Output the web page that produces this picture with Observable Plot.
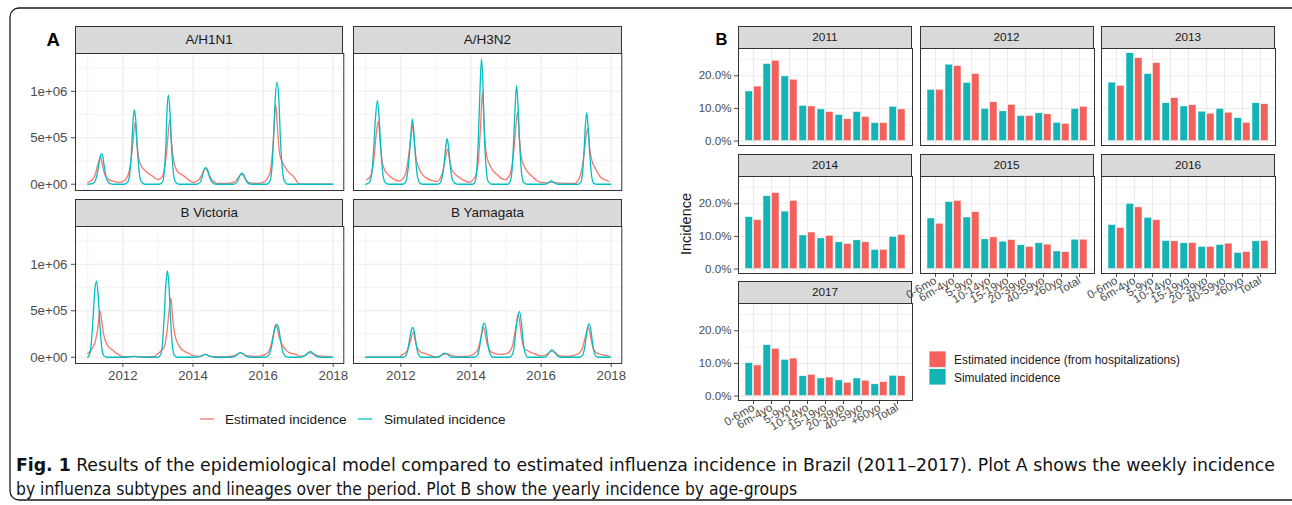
<!DOCTYPE html>
<html><head><meta charset="utf-8">
<script src="https://cdn.jsdelivr.net/npm/d3@7"></script>
<script src="https://cdn.jsdelivr.net/npm/@observablehq/plot@0.6"></script>
<style>
html,body{margin:0;padding:0;background:#fff;}
body{width:1292px;height:505px;position:relative;overflow:hidden;font-family:"Liberation Sans",Arial,Helvetica,sans-serif;}
.strip{position:absolute;background:#D9D9D9;border:1px solid #333;box-sizing:border-box;color:#1A1A1A;text-align:center;}
svg.plotsvg{position:absolute;overflow:visible;}
</style></head><body>
<script>
// ---------------- DATA: Plot A (weekly incidence, values in millions) ----------------
const subtypes = ["A/H1N1", "A/H3N2", "B Victoria", "B Yamagata"];
const seriesNames = ["Estimated incidence", "Simulated incidence"];

const h1n1Est = [[2011.0,0.02],[2011.1,0.04],[2011.2,0.09],[2011.28,0.2],[2011.36,0.29],[2011.42,0.2],[2011.5,0.09],[2011.6,0.05],[2011.75,0.03],[2011.9,0.02],[2012.05,0.04],[2012.15,0.1],[2012.22,0.22],[2012.28,0.42],[2012.35,0.67],[2012.39,0.5],[2012.44,0.3],[2012.52,0.2],[2012.6,0.16],[2012.7,0.12],[2012.8,0.1],[2012.9,0.07],[2013.0,0.05],[2013.1,0.07],[2013.18,0.15],[2013.25,0.35],[2013.34,0.69],[2013.38,0.5],[2013.43,0.3],[2013.5,0.18],[2013.6,0.12],[2013.7,0.1],[2013.8,0.07],[2013.9,0.04],[2014.0,0.02],[2014.15,0.04],[2014.25,0.1],[2014.36,0.17],[2014.45,0.11],[2014.55,0.04],[2014.7,0.01],[2015.0,0.01],[2015.2,0.03],[2015.32,0.09],[2015.39,0.11],[2015.47,0.07],[2015.58,0.02],[2015.8,0.01],[2016.0,0.02],[2016.1,0.05],[2016.2,0.13],[2016.28,0.4],[2016.36,0.86],[2016.41,0.6],[2016.47,0.33],[2016.55,0.24],[2016.65,0.17],[2016.75,0.12],[2016.85,0.09],[2016.93,0.05],[2017.0,0.01],[2017.2,0],[2017.98,0]];
const h1n1Sim = [[2011.0,0],[2011.15,0.01],[2011.25,0.08],[2011.31,0.2],[2011.35,0.29],[2011.39,0.33],[2011.43,0.29],[2011.47,0.19],[2011.53,0.07],[2011.62,0.01],[2011.75,0],[2012.05,0],[2012.15,0.03],[2012.21,0.16],[2012.25,0.38],[2012.29,0.68],[2012.33,0.80],[2012.37,0.68],[2012.41,0.40],[2012.46,0.15],[2012.52,0.03],[2012.62,0],[2013.05,0],[2013.14,0.03],[2013.19,0.18],[2013.23,0.45],[2013.26,0.80],[2013.30,0.96],[2013.34,0.80],[2013.38,0.46],[2013.43,0.17],[2013.49,0.03],[2013.6,0],[2014.1,0],[2014.2,0.02],[2014.27,0.09],[2014.32,0.16],[2014.37,0.18],[2014.42,0.15],[2014.47,0.08],[2014.55,0.02],[2014.65,0],[2015.15,0],[2015.25,0.02],[2015.32,0.08],[2015.36,0.11],[2015.40,0.12],[2015.45,0.10],[2015.5,0.05],[2015.58,0.01],[2015.68,0],[2016.1,0],[2016.2,0.04],[2016.26,0.22],[2016.3,0.52],[2016.34,0.88],[2016.40,1.10],[2016.45,0.90],[2016.49,0.52],[2016.54,0.2],[2016.6,0.04],[2016.7,0],[2017.98,0]];

const h3n2Est = [[2011.03,0.05],[2011.1,0.07],[2011.17,0.12],[2011.24,0.3],[2011.3,0.55],[2011.36,0.68],[2011.41,0.45],[2011.46,0.26],[2011.52,0.17],[2011.6,0.12],[2011.71,0.08],[2011.82,0.05],[2011.95,0.035],[2012.06,0.06],[2012.14,0.12],[2012.22,0.3],[2012.29,0.52],[2012.34,0.63],[2012.39,0.42],[2012.45,0.25],[2012.52,0.17],[2012.62,0.1],[2012.76,0.06],[2012.9,0.04],[2013.05,0.03],[2013.13,0.07],[2013.2,0.14],[2013.27,0.28],[2013.34,0.38],[2013.39,0.26],[2013.45,0.16],[2013.52,0.12],[2013.64,0.08],[2013.76,0.05],[2013.95,0.02],[2014.06,0.05],[2014.14,0.1],[2014.21,0.25],[2014.27,0.6],[2014.33,1.0],[2014.38,0.6],[2014.44,0.32],[2014.52,0.22],[2014.62,0.15],[2014.76,0.1],[2014.88,0.06],[2014.98,0.05],[2015.07,0.08],[2015.14,0.14],[2015.22,0.35],[2015.28,0.62],[2015.33,0.78],[2015.38,0.5],[2015.44,0.28],[2015.52,0.19],[2015.62,0.13],[2015.76,0.08],[2015.88,0.04],[2015.98,0.02],[2016.15,0.015],[2016.3,0.025],[2016.45,0.015],[2016.7,0.01],[2016.95,0.01],[2017.05,0.04],[2017.12,0.1],[2017.2,0.25],[2017.27,0.48],[2017.33,0.60],[2017.38,0.4],[2017.45,0.25],[2017.52,0.19],[2017.62,0.12],[2017.71,0.07],[2017.82,0.05],[2017.93,0.03]];
const h3n2Sim = [[2011.0,0],[2011.1,0.02],[2011.17,0.12],[2011.22,0.35],[2011.27,0.68],[2011.33,0.90],[2011.38,0.72],[2011.43,0.38],[2011.48,0.13],[2011.55,0.02],[2011.65,0],[2012.05,0],[2012.13,0.02],[2012.19,0.12],[2012.24,0.3],[2012.29,0.56],[2012.33,0.70],[2012.37,0.56],[2012.42,0.28],[2012.47,0.09],[2012.55,0.01],[2012.65,0],[2013.05,0],[2013.13,0.02],[2013.19,0.1],[2013.24,0.24],[2013.28,0.4],[2013.32,0.49],[2013.36,0.4],[2013.41,0.2],[2013.46,0.06],[2013.54,0.01],[2013.65,0],[2014.05,0],[2014.12,0.03],[2014.17,0.18],[2014.21,0.5],[2014.26,1.05],[2014.30,1.35],[2014.34,1.08],[2014.38,0.55],[2014.43,0.18],[2014.49,0.03],[2014.6,0],[2015.05,0],[2015.12,0.03],[2015.17,0.15],[2015.21,0.42],[2015.26,0.85],[2015.30,1.06],[2015.34,0.85],[2015.39,0.42],[2015.44,0.13],[2015.5,0.02],[2015.6,0],[2016.1,0],[2016.2,0.015],[2016.29,0.035],[2016.38,0.015],[2016.48,0],[2017.05,0],[2017.13,0.02],[2017.18,0.12],[2017.22,0.33],[2017.26,0.62],[2017.30,0.77],[2017.34,0.62],[2017.39,0.3],[2017.44,0.09],[2017.5,0.01],[2017.6,0],[2017.98,0]];

const bvicEst = [[2011.0,0.04],[2011.08,0.07],[2011.15,0.11],[2011.22,0.18],[2011.28,0.3],[2011.35,0.5],[2011.4,0.38],[2011.45,0.25],[2011.52,0.16],[2011.6,0.11],[2011.7,0.08],[2011.79,0.05],[2011.88,0.03],[2011.96,0.01],[2012.2,0.005],[2012.35,0.01],[2012.6,0.005],[2012.9,0.01],[2013.0,0.04],[2013.1,0.07],[2013.18,0.11],[2013.25,0.25],[2013.32,0.5],[2013.37,0.64],[2013.42,0.42],[2013.48,0.25],[2013.55,0.16],[2013.63,0.11],[2013.71,0.075],[2013.8,0.055],[2013.9,0.04],[2014.0,0.015],[2014.2,0.01],[2014.35,0.03],[2014.5,0.01],[2014.9,0.005],[2015.2,0.02],[2015.36,0.05],[2015.5,0.02],[2015.8,0.01],[2016.0,0.02],[2016.1,0.04],[2016.17,0.07],[2016.24,0.15],[2016.3,0.26],[2016.36,0.35],[2016.41,0.3],[2016.47,0.2],[2016.55,0.13],[2016.65,0.08],[2016.74,0.05],[2016.84,0.04],[2016.94,0.03],[2017.05,0.01],[2017.2,0.02],[2017.33,0.05],[2017.45,0.03],[2017.6,0.015],[2017.8,0.01],[2017.95,0.005]];
const bvicSim = [[2011.0,0],[2011.05,0.03],[2011.1,0.15],[2011.15,0.42],[2011.2,0.72],[2011.25,0.82],[2011.29,0.7],[2011.34,0.38],[2011.39,0.13],[2011.45,0.02],[2011.55,0],[2012.1,0],[2012.2,0.005],[2012.28,0.01],[2012.4,0.005],[2012.55,0],[2013.0,0],[2013.08,0.03],[2013.13,0.15],[2013.18,0.45],[2013.23,0.8],[2013.27,0.93],[2013.31,0.8],[2013.36,0.42],[2013.41,0.13],[2013.47,0.02],[2013.55,0],[2014.1,0],[2014.25,0.015],[2014.35,0.03],[2014.45,0.015],[2014.6,0],[2015.1,0],[2015.22,0.015],[2015.3,0.04],[2015.36,0.05],[2015.43,0.035],[2015.52,0.01],[2015.65,0],[2016.05,0],[2016.15,0.02],[2016.22,0.08],[2016.28,0.2],[2016.34,0.32],[2016.4,0.35],[2016.45,0.3],[2016.5,0.18],[2016.56,0.06],[2016.64,0.01],[2016.75,0],[2017.05,0],[2017.18,0.015],[2017.27,0.045],[2017.35,0.06],[2017.43,0.04],[2017.52,0.01],[2017.65,0],[2017.98,0]];

const byamEst = [[2011.0,0],[2011.95,0],[2012.0,0.015],[2012.1,0.04],[2012.19,0.075],[2012.27,0.17],[2012.36,0.27],[2012.41,0.18],[2012.47,0.1],[2012.55,0.06],[2012.65,0.045],[2012.76,0.03],[2012.88,0.015],[2013.0,0],[2013.15,0.02],[2013.31,0.04],[2013.45,0.02],[2013.6,0.01],[2013.9,0.01],[2014.1,0.04],[2014.2,0.09],[2014.28,0.2],[2014.36,0.32],[2014.42,0.22],[2014.49,0.11],[2014.57,0.06],[2014.7,0.04],[2014.86,0.03],[2015.0,0.04],[2015.1,0.06],[2015.18,0.12],[2015.26,0.28],[2015.35,0.46],[2015.4,0.34],[2015.46,0.17],[2015.53,0.09],[2015.62,0.07],[2015.72,0.05],[2015.81,0.04],[2015.92,0.02],[2016.0,0.015],[2016.15,0.03],[2016.23,0.05],[2016.31,0.07],[2016.4,0.05],[2016.5,0.02],[2016.7,0.01],[2016.95,0.02],[2017.1,0.05],[2017.18,0.1],[2017.26,0.22],[2017.35,0.32],[2017.41,0.22],[2017.48,0.1],[2017.57,0.05],[2017.7,0.03],[2017.82,0.02],[2017.93,0.015]];
const byamSim = [[2011.0,0],[2012.05,0],[2012.13,0.01],[2012.19,0.07],[2012.24,0.17],[2012.29,0.28],[2012.34,0.32],[2012.39,0.26],[2012.44,0.13],[2012.5,0.03],[2012.58,0],[2013.05,0],[2013.15,0.02],[2013.24,0.045],[2013.33,0.03],[2013.45,0],[2014.1,0],[2014.18,0.02],[2014.24,0.1],[2014.29,0.23],[2014.34,0.34],[2014.38,0.37],[2014.43,0.3],[2014.48,0.15],[2014.54,0.04],[2014.62,0],[2015.1,0],[2015.18,0.03],[2015.24,0.14],[2015.29,0.32],[2015.34,0.45],[2015.38,0.49],[2015.43,0.4],[2015.48,0.2],[2015.54,0.05],[2015.62,0],[2016.05,0],[2016.15,0.01],[2016.23,0.05],[2016.31,0.08],[2016.39,0.05],[2016.48,0.01],[2016.58,0],[2017.1,0],[2017.18,0.02],[2017.24,0.1],[2017.29,0.23],[2017.33,0.33],[2017.37,0.36],[2017.42,0.29],[2017.47,0.14],[2017.53,0.03],[2017.62,0],[2017.98,0]];

const aXTicks = [2012, 2014, 2016, 2018];
const aXMinor = [2011, 2013, 2015, 2017];
const aYTicks = [0, 500000, 1000000];
const aYLabels = ["0e+00", "5e+05", "1e+06"];
const aYMinor = [250000, 750000, 1250000];

// ---------------- DATA: Plot B (yearly incidence by age group, %) ----------------
const ageGroups = ["0-6mo", "6m-4yo", "5-9yo", "10-14yo", "15-19yo", "20-39yo", "40-59yo", "+60yo", "Total"];
const years = [2011, 2012, 2013, 2014, 2015, 2016, 2017];
const sim2011 = [15.2, 23.6, 19.8, 10.8, 9.7, 8.0, 8.9, 5.5, 10.5];
const est2011 = [16.7, 24.6, 18.8, 10.6, 8.9, 6.7, 7.4, 5.5, 9.7];
const sim2012 = [15.7, 23.4, 17.8, 9.9, 9.1, 7.7, 8.5, 5.6, 9.9];
const est2012 = [15.7, 23.0, 20.5, 11.9, 11.1, 7.7, 8.2, 5.3, 10.5];
const sim2013 = [17.9, 26.9, 20.5, 11.6, 10.6, 9.0, 9.9, 7.0, 11.6];
const est2013 = [16.9, 25.4, 23.9, 13.2, 11.0, 8.4, 8.7, 5.6, 11.3];
const sim2014 = [15.9, 22.3, 17.6, 10.3, 9.4, 8.2, 8.8, 5.9, 9.9];
const est2014 = [15.0, 23.3, 20.9, 11.2, 10.2, 7.7, 8.2, 5.9, 10.4];
const sim2015 = [15.5, 20.5, 15.8, 9.1, 8.4, 7.3, 7.9, 5.4, 9.0];
const est2015 = [13.9, 20.9, 17.4, 9.7, 8.9, 6.8, 7.5, 5.2, 9.0];
const sim2016 = [13.5, 20.0, 15.7, 8.6, 7.9, 6.8, 7.4, 4.9, 8.5];
const est2016 = [12.6, 18.9, 15.0, 8.5, 8.0, 6.8, 7.8, 5.2, 8.6];
const sim2017 = [10.1, 15.6, 11.1, 6.1, 5.4, 4.8, 5.4, 3.6, 6.2];
const est2017 = [9.4, 14.5, 11.5, 6.5, 5.7, 4.1, 4.7, 4.3, 6.1];
const bYTicks = [0, 10, 20];
const bYLabels = ["0.0%", "10.0%", "20.0%"];
const bYMinor = [5, 15, 25];
const legendB = ["Estimated incidence (from hospitalizations)", "Simulated incidence"];

// ---------------- STYLE ----------------
const FONT = '"Liberation Sans", Arial, Helvetica, sans-serif';
const CAPFONT = '"Liberation Sans Narrow", "DejaVu Sans Condensed", "Roboto Condensed", "Liberation Sans", sans-serif';
const RED_L = "#F8766D", TEAL_L = "#00BFC4";
const RED_B = "#F4615D", TEAL_B = "#14B4B6";
const GRID = "#EBEBEB";

function strip(label, left, top, width, height, fs) {
  const d = document.createElement("div");
  d.className = "strip";
  Object.assign(d.style, {left: left + "px", top: top + "px", width: width + "px", height: height + "px",
    lineHeight: (height - 2) + "px", fontSize: fs + "px"});
  d.textContent = label;
  document.body.appendChild(d);
}
function place(svg, left, top) {
  svg.classList.add("plotsvg");
  svg.style.left = left + "px";
  svg.style.top = top + "px";
  svg.style.maxWidth = "none";
  svg.style.background = "transparent";
  document.body.appendChild(svg);
}

// ---------------- PLOT A ----------------
const A_COLS = [75, 353.3], A_W = 268.3, A_ROWS = [53, 226], A_H = 137, A_STRIP = 27;
const aPanels = [
  {name: subtypes[0], est: h1n1Est, sim: h1n1Sim, r: 0, c: 0},
  {name: subtypes[1], est: h3n2Est, sim: h3n2Sim, r: 0, c: 1},
  {name: subtypes[2], est: bvicEst, sim: bvicSim, r: 1, c: 0},
  {name: subtypes[3], est: byamEst, sim: byamSim, r: 1, c: 1}
];
const aSvgs = [];
for (const p of aPanels) {
  strip(p.name, A_COLS[p.c], A_ROWS[p.r] - A_STRIP, A_W, A_STRIP + 1, 13.5);
  const showY = p.c === 0, showX = p.r === 1;
  const ml = showY ? 75 : 0, mb = showX ? 26 : 0;
  const svg = Plot.plot({
    width: ml + A_W, height: A_H + mb,
    marginLeft: ml, marginRight: 0, marginTop: 0, marginBottom: mb,
    style: {fontFamily: FONT, fontSize: "13.3px", color: "#4D4D4D"},
    x: {domain: [2010.65, 2018.3], ticks: aXTicks, tickFormat: d => String(d), tickSize: 4, tickPadding: 3,
        axis: showX ? "bottom" : null, label: null},
    y: {domain: [-67000, 1407000], ticks: aYTicks, tickFormat: (d, i) => aYLabels[aYTicks.indexOf(d)],
        tickSize: 4, tickPadding: 4, axis: showY ? "left" : null, label: null},
    marks: [
      Plot.ruleX(aXMinor, {stroke: GRID, strokeWidth: 0.6}),
      Plot.ruleY(aYMinor, {stroke: GRID, strokeWidth: 0.6}),
      Plot.ruleX(aXTicks, {stroke: GRID, strokeWidth: 1.1}),
      Plot.ruleY(aYTicks, {stroke: GRID, strokeWidth: 1.1}),
      Plot.lineY(p.est, {x: d => d[0], y: d => d[1] * 1e6, stroke: RED_L, strokeWidth: 1.3, curve: "monotone-x"}),
      Plot.lineY(p.sim, {x: d => d[0], y: d => d[1] * 1e6, stroke: TEAL_L, strokeWidth: 1.3, curve: "monotone-x"}),
      Plot.frame({stroke: "#333", strokeWidth: 1})
    ]
  });
  aSvgs.push([svg, A_COLS[p.c] - ml, A_ROWS[p.r]]);
}

// ---------------- PLOT B ----------------
const B_COLS = [738, 919.5, 1101], B_W = 174, B_ROWS = [48, 176, 303], B_H = 97, B_STRIP = 22;
const simByYear = [sim2011, sim2012, sim2013, sim2014, sim2015, sim2016, sim2017];
const estByYear = [est2011, est2012, est2013, est2014, est2015, est2016, est2017];
const bSvgs = [];
years.forEach((yr, k) => {
  const r = Math.floor(k / 3), c = k % 3;
  strip(String(yr), B_COLS[c], B_ROWS[r] - B_STRIP, B_W, B_STRIP + 1, 11.8);
  const rows = ageGroups.map((a, i) => ({age: a, sim: simByYear[k][i], est: estByYear[k][i]}));
  const showY = c === 0, showX = (yr >= 2015);
  const ml = showY ? 50 : 0, mb = showX ? 50 : 0;
  const step = B_W / (ageGroups.length - 0.1 + 0.3);
  const half = step * 0.9 / 2;
  const svg = Plot.plot({
    width: ml + B_W, height: B_H + mb,
    marginLeft: ml, marginRight: 0, marginTop: 0, marginBottom: mb,
    style: {fontFamily: FONT, fontSize: "11.6px", color: "#4D4D4D"},
    x: {type: "band", domain: ageGroups, paddingInner: 0.1, paddingOuter: 0.15, tickSize: 4, tickPadding: 2,
        tickRotate: -30, axis: showX ? "bottom" : null, label: null},
    y: {domain: [-1.35, 28.35], ticks: bYTicks, tickFormat: d => bYLabels[bYTicks.indexOf(d)],
        tickSize: 4, tickPadding: 3, axis: showY ? "left" : null, label: null},
    marks: [
      Plot.ruleY(bYMinor, {stroke: GRID, strokeWidth: 0.6}),
      Plot.ruleY(bYTicks, {stroke: GRID, strokeWidth: 1.1}),
      Plot.ruleX(ageGroups, {x: d => d, stroke: GRID, strokeWidth: 1.1}),
      Plot.barY(rows, {x: "age", y: "sim", fill: TEAL_B, insetRight: half, stroke: "white", strokeWidth: 0.5}),
      Plot.barY(rows, {x: "age", y: "est", fill: RED_B, insetLeft: half, stroke: "white", strokeWidth: 0.5}),
      Plot.frame({stroke: "#333", strokeWidth: 1})
    ]
  });
  bSvgs.push([svg, B_COLS[c] - ml, B_ROWS[r]]);
});
for (const [s, l, t] of aSvgs) place(s, l, t);
for (const [s, l, t] of bSvgs) place(s, l, t);

// ---------------- OVERLAY: labels, legends, caption, frame ----------------
const ns = "http://www.w3.org/2000/svg";
const ov = document.createElementNS(ns, "svg");
ov.setAttribute("width", 1292); ov.setAttribute("height", 505);
Object.assign(ov.style, {position: "absolute", left: "0px", top: "0px", fontFamily: FONT});
function el(tag, attrs, text) {
  const e = document.createElementNS(ns, tag);
  for (const k in attrs) e.setAttribute(k, attrs[k]);
  if (text != null) e.textContent = text;
  ov.appendChild(e);
  return e;
}
el("rect", {x: 10, y: 8, width: 1300, height: 492, rx: 9, fill: "none", stroke: "#1a1a1a", "stroke-width": 1.3});
el("text", {x: 46.5, y: 46, "font-size": 18.5, "font-weight": "bold", fill: "#000"}, "A");
el("text", {x: 715.5, y: 45, "font-size": 16.5, "font-weight": "bold", fill: "#000"}, "B");
// legend A
el("line", {x1: 200, x2: 214, y1: 419, y2: 419, stroke: RED_L, "stroke-width": 1.3});
el("text", {x: 225, y: 424, "font-size": 13.6, fill: "#1A1A1A"}, seriesNames[0]);
el("line", {x1: 358, x2: 372, y1: 419, y2: 419, stroke: TEAL_L, "stroke-width": 1.3});
el("text", {x: 384, y: 424, "font-size": 13.6, fill: "#1A1A1A"}, seriesNames[1]);
// legend B
el("rect", {x: 929, y: 351, width: 17, height: 16.5, fill: RED_B, stroke: "white", "stroke-width": 0.8});
el("rect", {x: 929, y: 368.5, width: 17, height: 16.5, fill: TEAL_B, stroke: "white", "stroke-width": 0.8});
el("text", {x: 954, y: 364, "font-size": 11.9, fill: "#1A1A1A"}, legendB[0]);
el("text", {x: 954, y: 381.5, "font-size": 11.9, fill: "#1A1A1A"}, legendB[1]);
// y title B
el("text", {x: 0, y: 0, "font-size": 14.5, fill: "#1A1A1A", "text-anchor": "middle",
  transform: "translate(691,224) rotate(-90)"}, "Incidence");
// caption
const cap1 = el("text", {x: 16, y: 471, "font-size": 18.5, fill: "#111", textLength: 1259, lengthAdjust: "spacingAndGlyphs",
  "font-family": CAPFONT});
const b1 = document.createElementNS(ns, "tspan"); b1.setAttribute("font-weight", "bold"); b1.textContent = "Fig. 1";
cap1.appendChild(b1);
cap1.appendChild(document.createTextNode(" Results of the epidemiological model compared to estimated influenza incidence in Brazil (2011\u20132017). Plot A shows the weekly incidence"));
el("text", {x: 16, y: 495, "font-size": 18.5, fill: "#111", textLength: 781, lengthAdjust: "spacingAndGlyphs",
  "font-family": CAPFONT},
  "by influenza subtypes and lineages over the period. Plot B show the yearly incidence by age-groups");
document.body.appendChild(ov);
</script>
</body></html>
